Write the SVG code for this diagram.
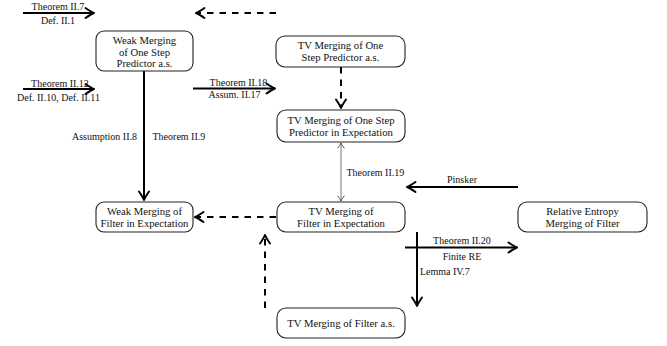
<svg xmlns="http://www.w3.org/2000/svg" width="667" height="346" viewBox="0 0 667 346">
<style>
.node rect{fill:#fff;stroke:#222;stroke-width:1.1}
.nt{font-family:"Liberation Serif","Times New Roman",serif;font-size:10.7px;fill:#111;text-anchor:middle}
.lb{font-family:"Liberation Serif","Times New Roman",serif;font-size:10px;fill:#111}
.thick{stroke:#000;stroke-width:2;fill:none;marker-end:url(#ah)}
.dash{stroke:#000;stroke-width:2;fill:none;stroke-dasharray:6.5 6;marker-end:url(#ah)}
.thin{stroke:#777;stroke-width:1;fill:none;marker-end:url(#th);marker-start:url(#th)}
</style>
<defs>
<marker id="ah" markerUnits="userSpaceOnUse" markerWidth="14" markerHeight="14" viewBox="-11 -7 14 14" refX="0" refY="0" orient="auto">
<path d="M-8.5,-5 Q-3,-1.2 0,0 Q-3,1.2 -8.5,5" fill="none" stroke="#000" stroke-width="2" stroke-linecap="round" stroke-linejoin="round"/>
</marker>
<marker id="th" markerUnits="userSpaceOnUse" markerWidth="10" markerHeight="10" viewBox="-7 -5 10 10" refX="0" refY="0" orient="auto-start-reverse">
<path d="M-5,-3.2 Q-2,-0.8 0,0 Q-2,0.8 -5,3.2" fill="none" stroke="#555" stroke-width="1" stroke-linecap="round"/>
</marker>
</defs>

<g id="connectors">
<line class="thick" x1="23" y1="13" x2="94" y2="13"/>
<line class="dash" x1="276" y1="13" x2="196" y2="13"/>
<line class="thick" x1="23" y1="89" x2="94" y2="89"/>
<line class="thick" x1="193" y1="88.5" x2="275" y2="88.5"/>
<line class="thick" x1="144" y1="71" x2="144" y2="200"/>
<line class="dash" x1="341" y1="67" x2="341" y2="108"/>
<line class="thin" x1="341" y1="143" x2="341" y2="201"/>
<line class="thick" x1="518" y1="187" x2="407" y2="187"/>
<line class="dash" x1="276" y1="217" x2="195" y2="217"/>
<line class="dash" x1="265" y1="308" x2="265" y2="235"/>
<line class="thick" x1="405" y1="247.5" x2="517" y2="247.5"/>
<line class="thick" x1="417" y1="232" x2="417" y2="306"/>
</g>

<g id="edge-labels">
<text class="lb" x="58" y="9.5" text-anchor="middle">Theorem II.7</text>
<text class="lb" x="58" y="23.5" text-anchor="middle">Def. II.1</text>
<text class="lb" x="60" y="87" text-anchor="middle">Theorem II.12</text>
<text class="lb" x="58.5" y="100.5" text-anchor="middle">Def. II.10, Def. II.11</text>
<text class="lb" x="238.5" y="85.5" text-anchor="middle">Theorem II.18</text>
<text class="lb" x="234.5" y="97.5" text-anchor="middle">Assum. II.17</text>
<text class="lb" x="137" y="139.5" text-anchor="end">Assumption II.8</text>
<text class="lb" x="152.5" y="139.5">Theorem II.9</text>
<text class="lb" x="346.5" y="175.5">Theorem II.19</text>
<text class="lb" x="462" y="183" text-anchor="middle">Pinsker</text>
<text class="lb" x="462" y="243.5" text-anchor="middle">Theorem II.20</text>
<text class="lb" x="462" y="259.5" text-anchor="middle">Finite RE</text>
<text class="lb" x="420" y="274.5">Lemma IV.7</text>
</g>

<g id="weak-os-as" class="node">
<rect x="96" y="31" width="97" height="40" rx="8"/>
<text class="nt" x="144.5" y="43.5">Weak Merging</text>
<text class="nt" x="144.5" y="55.5">of One Step</text>
<text class="nt" x="144.5" y="67">Predictor a.s.</text>
</g>

<g id="tv-os-as" class="node">
<rect x="276" y="36" width="129" height="31" rx="9"/>
<text class="nt" x="340.5" y="48.5">TV Merging of One</text>
<text class="nt" x="340.5" y="61">Step Predictor a.s.</text>
</g>

<g id="tv-os-exp" class="node">
<rect x="277" y="110" width="128" height="32" rx="9"/>
<text class="nt" x="341" y="123.5">TV Merging of One Step</text>
<text class="nt" x="341" y="136">Predictor in Expectation</text>
</g>

<g id="tv-filter-exp" class="node">
<rect x="277" y="202" width="128" height="30" rx="9"/>
<text class="nt" x="341" y="214.5">TV Merging of</text>
<text class="nt" x="341" y="227">Filter in Expectation</text>
</g>

<g id="re-filter" class="node">
<rect x="518" y="202" width="129" height="30" rx="9"/>
<text class="nt" x="582.5" y="214.5">Relative Entropy</text>
<text class="nt" x="582.5" y="227">Merging of Filter</text>
</g>

<g id="tv-filter-as" class="node">
<rect x="277" y="308" width="128" height="30" rx="9"/>
<text class="nt" x="341" y="326.5">TV Merging of Filter a.s.</text>
</g>

<g id="weak-filter-exp" class="node">
<rect x="96" y="202" width="97" height="30" rx="8"/>
<text class="nt" x="144.5" y="214.5">Weak Merging of</text>
<text class="nt" x="144.5" y="227">Filter in Expectation</text>
</g>
</svg>
